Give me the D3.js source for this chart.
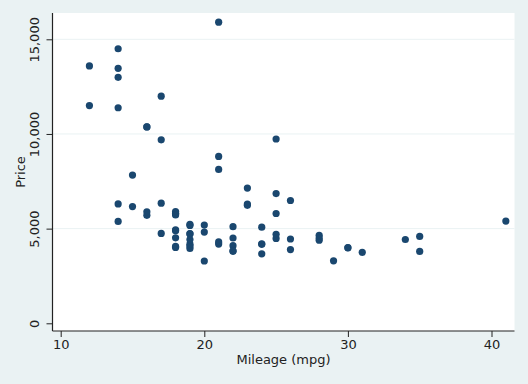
<!DOCTYPE html>
<html><head><meta charset="utf-8">
<script src="https://cdn.jsdelivr.net/npm/d3@7"></script>
<style>body{margin:0;background:#eaf2f3}svg{display:block}</style>
</head><body>
<script>
const mpg = [22,17,22,20,15,18,26,20,16,19,14,14,21,29,16,22,22,24,19,30,18,16,17,28,21,12,12,14,22,14,15,18,14,20,21,19,19,18,19,24,16,28,34,25,26,18,18,18,19,19,19,24,17,23,25,23,35,24,21,21,25,28,30,14,26,35,18,31,18,23,41,25,25,17];
const price = [4099,4749,3799,4816,7827,5788,4453,5189,10372,4082,11385,14500,15906,3299,5705,4504,5104,3667,3955,3984,4010,5886,6342,4389,4187,11497,13594,13466,3829,5379,6165,4516,6303,3291,8814,5172,4733,4890,4181,4195,10371,4647,4425,4482,6486,4060,5798,4934,5222,4723,4424,4172,9690,6295,9735,6229,4589,5079,8129,4296,5799,4499,3995,12990,3895,3798,5899,3748,5719,7140,5397,4697,6850,11995];
const xTicks = [10,20,30,40];
const yTicks = [0,5000,10000,15000];
const xTitle = "Mileage (mpg)";
const yTitle = "Price";

const W=528,H=384;
const L=52.5,R=514.5,T=13,B=331;
const svg=d3.select("body").append("svg").attr("width",W).attr("height",H);
svg.append("rect").attr("width",W).attr("height",H).attr("fill","#eaf2f3");
svg.append("rect").attr("x",L).attr("y",T).attr("width",R-L).attr("height",B-T).attr("fill","#ffffff");
const x=d3.scaleLinear().domain([10,40]).range([60.7,491.5]);
const y=d3.scaleLinear().domain([0,15000]).range([323.3,39.3]);
const font="DejaVu Sans, sans-serif";
// grid
svg.append("g").selectAll("line").data(yTicks.filter(d=>d>0)).join("line")
  .attr("x1",L).attr("x2",R).attr("y1",d=>y(d)).attr("y2",d=>y(d))
  .attr("stroke","#eaf2f3").attr("stroke-width",1);
// points
svg.append("g").selectAll("circle").data(mpg.map((m,i)=>[m,price[i]])).join("circle")
  .attr("cx",d=>x(d[0])).attr("cy",d=>y(d[1])).attr("r",3.6).attr("fill","#1a476f");
// axes
const xa=svg.append("g").attr("transform",`translate(0,${B})`)
  .call(d3.axisBottom(x).tickValues(xTicks).tickSize(6).tickPadding(3).tickFormat(d3.format("d")));
xa.select(".domain").remove();
xa.selectAll("line").attr("stroke","#222");
xa.selectAll("text").attr("font-family",font).attr("font-size",13).attr("fill","#222");
const ya=svg.append("g").attr("transform",`translate(${L},0)`)
  .call(d3.axisLeft(y).tickValues(yTicks).tickSize(6).tickFormat(d3.format(",")));
ya.select(".domain").remove();
ya.selectAll("line").attr("stroke","#222");
ya.selectAll("text").attr("font-family",font).attr("font-size",13).attr("fill","#222")
  .attr("text-anchor","middle").attr("x",0).attr("dy",0)
  .attr("transform","translate(-14,0) rotate(-90)");
svg.append("line").attr("x1",L).attr("x2",L).attr("y1",T).attr("y2",B).attr("stroke","#222").attr("stroke-width",1.2);
svg.append("line").attr("x1",L).attr("x2",R).attr("y1",B).attr("y2",B).attr("stroke","#222").attr("stroke-width",1.2);
svg.append("text").attr("x",(L+R)/2).attr("y",364).attr("text-anchor","middle")
  .attr("font-family",font).attr("font-size",13).attr("fill","#222").text(xTitle);
svg.append("text").attr("transform",`translate(25,${(T+B)/2}) rotate(-90)`).attr("text-anchor","middle")
  .attr("font-family",font).attr("font-size",13).attr("fill","#222").text(yTitle);
</script>
</body></html>
